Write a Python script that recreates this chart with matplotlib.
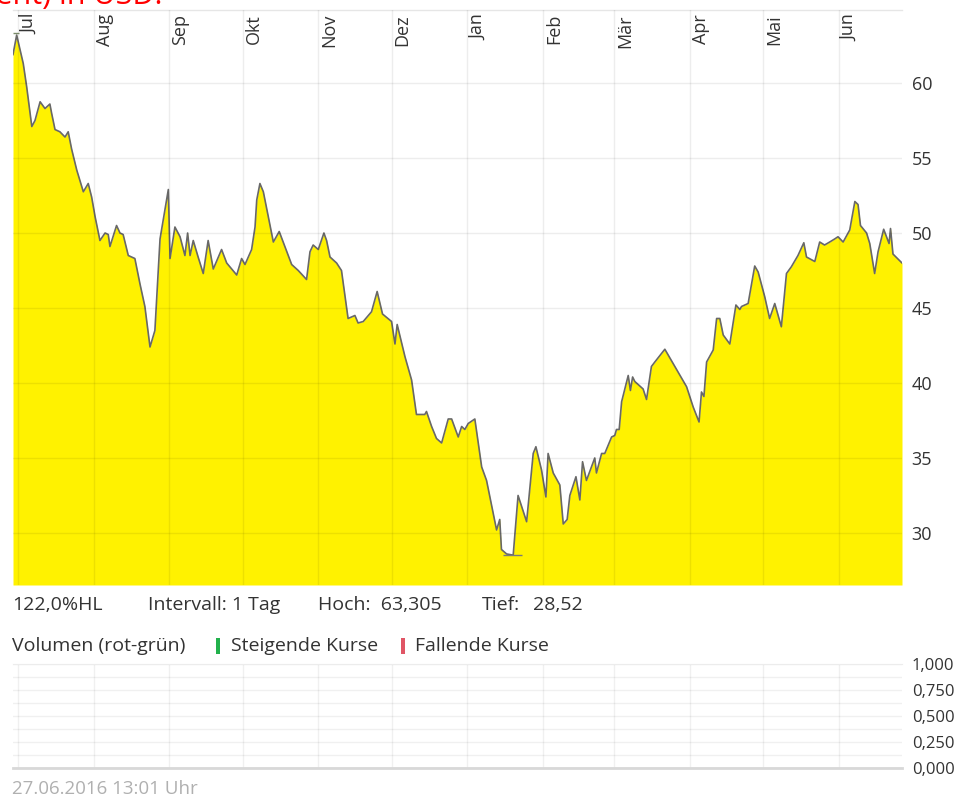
import matplotlib
matplotlib.use("Agg")
import matplotlib.pyplot as plt
import matplotlib.dates as mdates
import matplotlib.transforms as mtransforms
from matplotlib.patches import Rectangle
import numpy as np
import datetime as dt

plt.rcParams['font.family'] = ['Open Sans', 'DejaVu Sans']

# ---------------- data ----------------
start_date = "2015-06-29"
end_date = "2016-06-27"
day_offsets = [0, 1.5, 2.9, 4.2, 5.6, 7.7, 9.0, 11.1, 13.1, 15.1, 15.8, 17.2, 19.2, 21.3, 22.6, 24.0,
               26.1, 28.8, 30.8, 32.2, 33.6, 35.6, 37.7, 39.0, 39.7, 42.4, 43.8, 45.1, 47.2, 49.9, 52.0,
               54.0, 56.1, 58.1, 60.2, 63.6, 64.3, 66.3, 68.4, 70.4, 71.5, 72.5, 73.8, 75.8, 77.9, 79.9,
               82.0, 85.4, 87.5, 91.6, 93.6, 95.0, 97.7, 99.1, 99.8, 101.1, 102.5, 104.5, 106.6, 109.0,
               111.3, 114.1, 116.8, 120.2, 121.6, 122.9, 125.0, 127.3, 128.4, 129.8, 132.5, 134.5, 137.2,
               140.0, 141.3, 143.4, 146.8, 149.1, 151.3, 155.0, 156.4, 157.3, 160.5, 163.2, 165.2, 168.6,
               169.3, 171.4, 173.4, 175.5, 178.2, 179.6, 182.3, 183.7, 185.0, 186.4, 189.1, 191.9, 193.9,
               198.0, 199.3, 200.0, 202.1, 204.8, 206.8, 210.3, 213.0, 214.1, 216.4, 218.2, 219.1, 221.2,
               223.9, 225.3, 226.9, 228.0, 230.5, 232.1, 233.2, 234.8, 238.2, 238.9, 241.0, 242.3, 245.1,
               246.4, 247.1, 248.2, 249.2, 251.9, 252.8, 253.7, 254.6, 258.0, 259.4, 261.4, 262.8, 266.9,
               271.7, 275.8, 278.5, 280.9, 281.9, 282.9, 284.0, 286.7, 288.1, 289.4, 290.8, 293.5, 296.0,
               297.6, 298.3, 301.0, 303.7, 305.1, 307.8, 309.8, 311.9, 314.6, 316.7, 318.7, 321.4, 323.8,
               324.9, 328.3, 330.3, 332.3, 334.4, 336.4, 337.8, 339.9, 342.6, 344.7, 346.0, 347.0, 349.5,
               350.8, 352.8, 354.2, 356.5, 358.7, 359.3, 360.3, 364.0]
prices = [61.9, 63.2, 62.2, 61.3, 59.75, 57.1, 57.5, 58.75, 58.3, 58.6, 58.0, 56.9, 56.75, 56.4, 56.75, 55.6,
          54.2, 52.75, 53.3, 52.4, 51.1, 49.5, 50.0, 49.9, 49.1, 50.5, 50.0, 49.9, 48.5, 48.3, 46.6,
          45.1, 42.4, 43.5, 49.6, 52.9, 48.3, 50.4, 49.75, 48.5, 50.0, 48.5, 49.5, 48.4, 47.3, 49.5,
          47.6, 48.9, 48.0, 47.2, 48.3, 47.9, 48.9, 50.4, 52.2, 53.3, 52.75, 51.1, 49.4, 50.1,
          49.1, 47.9, 47.5, 46.9, 48.75, 49.2, 48.9, 50.0, 49.5, 48.4, 48.0, 47.5, 44.3,
          44.5, 44.0, 44.1, 44.75, 46.1, 44.6, 44.1, 42.6, 43.9, 41.75, 40.2, 37.9, 37.9,
          38.1, 37.1, 36.3, 36.0, 37.6, 37.6, 36.4, 37.1, 36.9, 37.3, 37.6, 34.4, 33.5,
          30.2, 30.9, 28.9, 28.6, 28.52, 32.5, 30.75, 35.3, 35.75, 34.2, 32.4, 35.3, 34.0,
          33.2, 30.6, 30.9, 32.5, 33.75, 32.2, 34.75, 33.5, 35.0, 34.0, 35.3, 35.3, 36.4,
          36.5, 36.9, 36.9, 38.75, 40.5, 39.5, 40.4, 40.1, 39.6, 38.9, 41.1, 41.4, 42.25,
          40.9, 39.75, 38.4, 37.4, 39.4, 39.1, 41.4, 42.2, 44.3, 44.3, 43.2, 42.6, 45.2,
          44.9, 45.1, 45.3, 47.8, 47.4, 45.75, 44.3, 45.3, 43.75, 47.3, 47.75, 48.5, 49.35,
          48.4, 48.1, 49.4, 49.2, 49.4, 49.6, 49.75, 49.4, 50.2, 52.1, 51.9, 50.5, 50.0,
          49.3, 47.3, 48.75, 50.25, 49.3, 50.3, 48.6, 48.0]
high_value = 63.305
low_value = 28.52
high_span = [0.0, 2.5]
low_span = [200.5, 208.5]
month_starts = ["2015-07-01", "2015-08-01", "2015-09-01", "2015-10-01", "2015-11-01", "2015-12-01",
                "2016-01-01", "2016-02-01", "2016-03-01", "2016-04-01", "2016-05-01", "2016-06-01"]
month_labels = ["Jul", "Aug", "Sep", "Okt", "Nov", "Dez", "Jan", "Feb", "Mär", "Apr", "Mai", "Jun"]
price_ticks = [30, 35, 40, 45, 50, 55, 60]
volume_ticks = [0.0, 0.25, 0.5, 0.75, 1.0]
volume_tick_labels = ["0,000", "0,250", "0,500", "0,750", "1,000"]
title_text = "Ölpreis (Brent) in USD:"
info_texts = ["122,0%HL", "Intervall: 1 Tag", "Hoch:  63,305", "Tief:", "28,52"]
legend_texts = ["Volumen (rot-grün)", "Steigende Kurse", "Fallende Kurse"]
timestamp = "27.06.2016 13:01 Uhr"

# ---------------- figure ----------------
W, H = 966, 798
fig = plt.figure(figsize=(W / 100, H / 100), dpi=100)
fig.patch.set_facecolor("white")


def px_axes(l, t, r, b):
    return fig.add_axes([l / W, 1 - b / H, (r - l) / W, (b - t) / H])


def to_num(s):
    return mdates.date2num(dt.datetime.strptime(s, "%Y-%m-%d"))


base = to_num(start_date)
x_end = to_num(end_date)
xs = base + np.array(day_offsets)
ys = np.array(prices)
month_locs = [to_num(s) for s in month_starts]

ymin, ymax = 26.53, 64.87

ax = px_axes(13, 10, 902, 585)
ax.set_xlim(base, x_end)
ax.set_ylim(ymin, ymax)
ax.fill_between(xs, ys, ymin, color="#FFF200", linewidth=0, zorder=1)
ax.plot(xs, ys, color="#686868", lw=1.2, zorder=2)
ax.hlines([high_value], base + high_span[0], base + high_span[1], color="#7a8a6a", lw=1.0, zorder=3)
ax.hlines([low_value], base + low_span[0], base + low_span[1], color="#7a7a7a", lw=1.0, zorder=3)

ax.set_xticks(month_locs)
ax.set_yticks(price_ticks)
ax.yaxis.tick_right()
ax.tick_params(axis="y", length=0, pad=7, labelsize=13, labelcolor="#333333")
ax.tick_params(axis="x", length=0, labelbottom=False)
for lab in ax.get_yticklabels():
    lab.set_horizontalalignment("left")
ax.grid(True, color="black", alpha=0.07, lw=1.0)
ax.set_axisbelow(False)
for s in ["left", "right", "bottom"]:
    ax.spines[s].set_visible(False)
ax.spines["top"].set_color("#e6e6e6")
ax.spines["top"].set_linewidth(1.0)

# month labels
trans = mtransforms.blended_transform_factory(ax.transData, ax.transAxes) + \
    mtransforms.ScaledTranslation(2 / 100, -4 / 100, fig.dpi_scale_trans)
for loc, lab in zip(month_locs, month_labels):
    ax.text(loc, 1.0, lab, rotation=90, ha="left", va="top", fontsize=13,
            color="#333333", transform=trans)

# title (clipped at top, as in the source)
fig.text(163 / W, 1 - 4 / H, title_text, ha="right", va="baseline", fontsize=22, color="#ff0000")

# info row
info_x = [12, 148, 318, 482, 533]
for x, t in zip(info_x, info_texts):
    fig.text(x / W, 1 - 605 / H, t, ha="left", va="center", fontsize=14, color="#333333")

# volume legend row
fig.text(12 / W, 1 - 646 / H, legend_texts[0], ha="left", va="center", fontsize=14, color="#333333")
fig.text(231 / W, 1 - 646 / H, legend_texts[1], ha="left", va="center", fontsize=14, color="#333333")
fig.text(415 / W, 1 - 646 / H, legend_texts[2], ha="left", va="center", fontsize=14, color="#333333")
fig.patches.append(Rectangle((216 / W, 1 - 654 / H), 4 / W, 16 / H, transform=fig.transFigure,
                             facecolor="#22b14c", edgecolor="none"))
fig.patches.append(Rectangle((401 / W, 1 - 654 / H), 4 / W, 16 / H, transform=fig.transFigure,
                             facecolor="#e05565", edgecolor="none"))

# volume axes
av = px_axes(13, 664, 902, 768)
av.set_xlim(base, x_end)
av.set_ylim(0, 1)
av.set_xticks(month_locs)
av.set_yticks(volume_ticks)
av.set_yticklabels(volume_tick_labels)
av.set_yticks(np.arange(0, 1.001, 0.125), minor=True)
av.yaxis.tick_right()
av.tick_params(axis="y", which="both", length=0, pad=7, labelsize=12, labelcolor="#333333")
av.tick_params(axis="x", length=0, labelbottom=False)
for lab in av.get_yticklabels():
    lab.set_horizontalalignment("left")
av.grid(True, which="both", color="black", alpha=0.06, lw=1.0)
for s in ["left", "right"]:
    av.spines[s].set_visible(False)
av.spines["bottom"].set_color("#d8d8d8")
av.spines["bottom"].set_linewidth(2.0)
av.spines["top"].set_color("#ececec")

# timestamp
fig.text(12 / W, 1 - 789 / H, timestamp, ha="left", va="center", fontsize=13.5, color="#b0b0b0")

fig.savefig("out.png", dpi=100)
